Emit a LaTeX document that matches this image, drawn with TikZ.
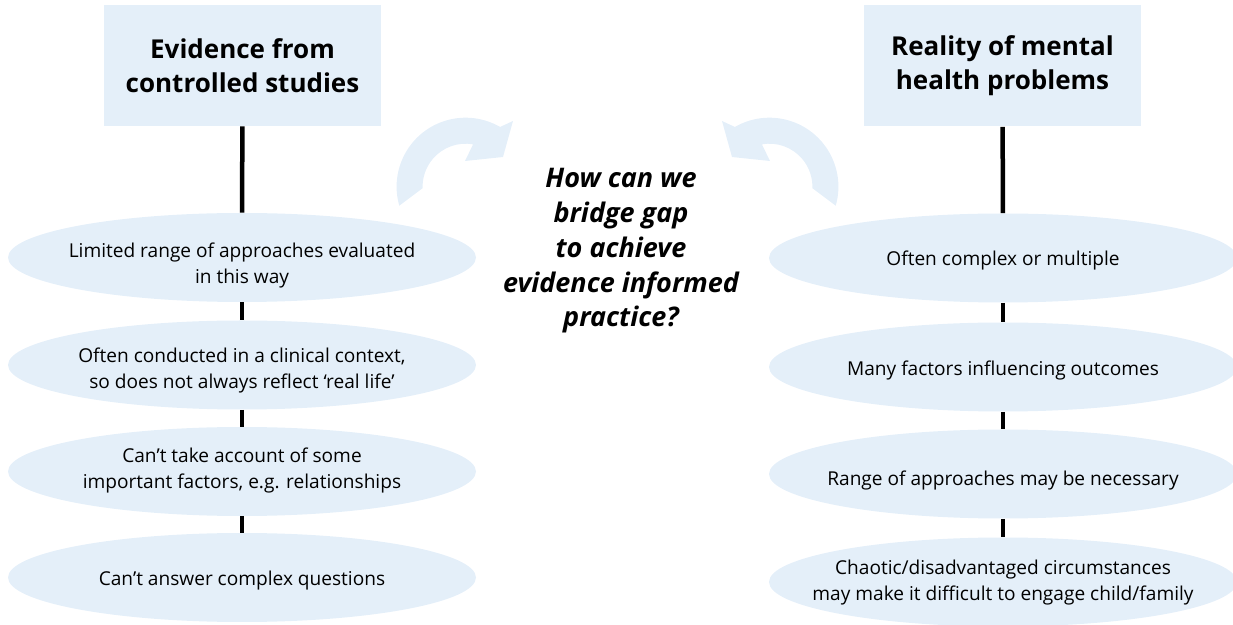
\documentclass[tikz,border=0pt]{standalone}
\usepackage{fontspec}
\setmainfont{Open Sans}
\usetikzlibrary{shapes.geometric}
\definecolor{lightblue}{RGB}{228,239,249}
\newcommand\bendarrowpath{(196:69) arc[start angle=196, end angle=60, radius=69] -- (47.4,65.7) -- (37.4,29.7) -- (-0.6,25.7) -- (80:43) arc[start angle=80, end angle=182, radius=43] -- cycle}
\begin{document}
\begin{tikzpicture}[x=0.5pt,y=-0.5pt,
  hdr/.style={fill=lightblue, minimum width=138.5pt, minimum height=60.5pt, inner sep=0pt, align=center, font=\fontsize{13}{17}\selectfont\bfseries},
  ovaltext/.style={align=center, inner sep=0pt, font=\fontsize{9.55}{13}\selectfont},
  oval/.style 2 args={ellipse, fill=lightblue, minimum width=234pt, minimum height=44.5pt, inner sep=0pt, label={[ovaltext, yshift=#2]center:#1}},
  link/.style={line width=2.25pt, black},
  bendfill/.style={fill=lightblue},
  question/.style={align=center, font=\fontsize{13.5}{17.4}\selectfont\bfseries\itshape}]
\useasboundingbox (0,0) rectangle (1233,625);
% curved arrows
\begin{scope}[shift={(465.6,186.7)}, x=0.5pt, y=0.5pt]
  \fill[bendfill] \bendarrowpath;
\end{scope}
\begin{scope}[shift={(769.4,186.7)}, x=0.5pt, y=0.5pt, xscale=-1]
  \fill[bendfill] \bendarrowpath;
\end{scope}
% left column
\node[hdr] (L0) at (242.5,65.5) {Evidence from\\controlled studies};
\node[oval={{Limited range of approaches evaluated\\in this way}}{-4pt}] (L1) at (242,257.5) {};
\node[oval={{Often conducted in a clinical context,\\so does not always reflect ‘real life’}}{-2.5pt}] (L2) at (242,365) {};
\node[oval={{Can’t take account of some\\important factors, e.g. relationships}}{0.5pt}] (L3) at (242,471.5) {};
\node[oval={{Can’t answer complex questions}}{-1.5pt}] (L4) at (242,577.5) {};
% right column
\node[hdr] (R0) at (1002.5,66) {Reality of mental\\health problems};
\node[oval={{Often complex or multiple}}{-1pt}] (R1) at (1003,258) {};
\node[oval={{Many factors influencing outcomes}}{-1.5pt}] (R2) at (1003,367) {};
\node[oval={{Range of approaches may be necessary}}{-3pt}] (R3) at (1003,474) {};
\node[oval={{Chaotic/disadvantaged circumstances\\may make it difficult to engage child/family}}{-0.5pt}] (R4) at (1003,582) {};
% centre question
\node[question] (Q) at (621,251) {How can we\\bridge gap\\to achieve\\evidence informed\\practice?};
% connectors
\draw[link] (L0) -- (L1);
\draw[link] (L1) -- (L2);
\draw[link] (L2) -- (L3);
\draw[link] (L3) -- (L4);
\draw[link] (R0) -- (R1);
\draw[link] (R1) -- (R2);
\draw[link] (R2) -- (R3);
\draw[link] (R3) -- (R4);
\end{tikzpicture}
\end{document}
